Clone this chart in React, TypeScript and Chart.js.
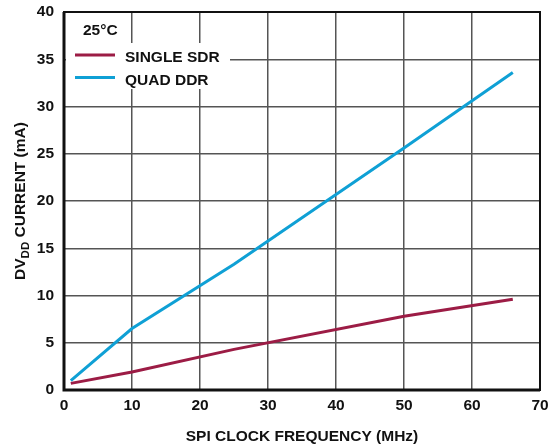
import React, { useEffect, useRef } from "react";
import { Chart, registerables } from "chart.js";

Chart.register(...registerables);

const frequencies = [1, 10, 25, 50, 66];
const singleSdr = [0.7, 1.9, 4.3, 7.8, 9.6];
const quadDdr = [1.0, 6.5, 13.3, 25.6, 33.6];
const seriesLabels = ["SINGLE SDR", "QUAD DDR"];
const seriesColors = ["#9c1c45", "#0fa0d5"];
const legendTitle = "25°C";
const xTitle = "SPI CLOCK FREQUENCY (MHz)";
const yTitleParts = ["DV", "DD", " CURRENT (mA)"];

const FONT = "'Liberation Sans', Arial, sans-serif";

const framePlugin = {
  id: "frame",
  beforeDatasetsDraw(chart: any) {
    const { ctx, chartArea: a } = chart;
    ctx.save();
    ctx.strokeStyle = "#111";
    ctx.lineWidth = 2;
    ctx.strokeRect(a.left, a.top, a.right - a.left, a.bottom - a.top);
    ctx.lineWidth = 3;
    ctx.beginPath();
    ctx.moveTo(a.left, a.top);
    ctx.lineTo(a.left, a.bottom);
    ctx.lineTo(a.right, a.bottom);
    ctx.stroke();
    ctx.restore();
  },
  afterDraw(chart: any) {
    const { ctx, chartArea: a } = chart;
    ctx.save();
    // legend box
    ctx.fillStyle = "#fff";
    ctx.fillRect(a.left + 2, 43, 164, 46);
    ctx.fillStyle = "#111";
    ctx.font = `bold 15.5px ${FONT}`;
    ctx.textBaseline = "middle";
    ctx.textAlign = "left";
    ctx.fillText(legendTitle, 83, 31);
    const ys = [55, 77.5];
    seriesLabels.forEach((lab, i) => {
      ctx.strokeStyle = seriesColors[i];
      ctx.lineWidth = 3;
      ctx.beginPath();
      ctx.moveTo(75, ys[i]);
      ctx.lineTo(115, ys[i]);
      ctx.stroke();
      ctx.fillStyle = "#111";
      ctx.fillText(lab, 125, ys[i] + 3);
    });
    // y title with subscript
    const mainFont = `bold 15.5px ${FONT}`;
    const subFont = `bold 11.5px ${FONT}`;
    ctx.font = mainFont;
    const w0 = ctx.measureText(yTitleParts[0]).width;
    const w2 = ctx.measureText(yTitleParts[2]).width;
    ctx.font = subFont;
    const w1 = ctx.measureText(yTitleParts[1]).width;
    const total = w0 + w1 + w2;
    const cy = (a.top + a.bottom) / 2;
    ctx.translate(19, cy);
    ctx.rotate(-Math.PI / 2);
    ctx.textBaseline = "alphabetic";
    let x = -total / 2;
    ctx.font = mainFont;
    ctx.fillText(yTitleParts[0], x, 5.5);
    x += w0;
    ctx.font = subFont;
    ctx.fillText(yTitleParts[1], x, 9.5);
    x += w1;
    ctx.font = mainFont;
    ctx.fillText(yTitleParts[2], x, 5.5);
    ctx.restore();
  },
};

export default function App() {
  const ref = useRef<HTMLCanvasElement>(null);
  useEffect(() => {
    if (!ref.current) return;
    const chart = new Chart(ref.current, {
      type: "line",
      data: {
        datasets: [
          {
            label: seriesLabels[0],
            data: frequencies.map((f, i) => ({ x: f, y: singleSdr[i] })),
            borderColor: seriesColors[0],
            borderWidth: 3,
            pointRadius: 0,
            tension: 0,
          },
          {
            label: seriesLabels[1],
            data: frequencies.map((f, i) => ({ x: f, y: quadDdr[i] })),
            borderColor: seriesColors[1],
            borderWidth: 3,
            pointRadius: 0,
            tension: 0,
          },
        ],
      },
      options: {
        responsive: false,
        animation: false,
        layout: { padding: { top: 12, right: 8, left: 0, bottom: 0 } },
        plugins: { legend: { display: false }, tooltip: { enabled: false } },
        scales: {
          x: {
            type: "linear",
            min: 0,
            max: 70,
            ticks: {
              stepSize: 10,
              color: "#111",
              padding: 6,
              maxRotation: 0,
              font: { family: FONT, size: 15.5, weight: "bold" },
            },
            grid: { color: "#555", lineWidth: 1.5, drawTicks: false },
            border: { display: false },
            title: {
              display: true,
              text: xTitle,
              color: "#111",
              padding: { top: 10, bottom: 0 },
              font: { family: FONT, size: 15.5, weight: "bold" },
            },
            afterFit(scale: any) {
              scale.height = 56;
              scale.paddingLeft = 0;
              scale.paddingRight = 0;
              scale.paddingTop = 0;
              scale.paddingBottom = 0;
            },
          },
          y: {
            min: 0,
            max: 40,
            ticks: {
              stepSize: 5,
              color: "#111",
              padding: 10,
              font: { family: FONT, size: 15.5, weight: "bold" },
            },
            grid: { color: "#555", lineWidth: 1.5, drawTicks: false },
            border: { display: false },
            afterFit(scale: any) {
              scale.width = 64;
              scale.paddingLeft = 0;
              scale.paddingRight = 0;
              scale.paddingTop = 0;
              scale.paddingBottom = 0;
            },
          },
        },
      },
      plugins: [framePlugin],
    });
    return () => chart.destroy();
  }, []);
  return (
    <div style={{ position: "fixed", left: 0, top: 0, width: 548, height: 446, background: "#fff" }}>
      <canvas ref={ref} width={548} height={446} />
    </div>
  );
}
